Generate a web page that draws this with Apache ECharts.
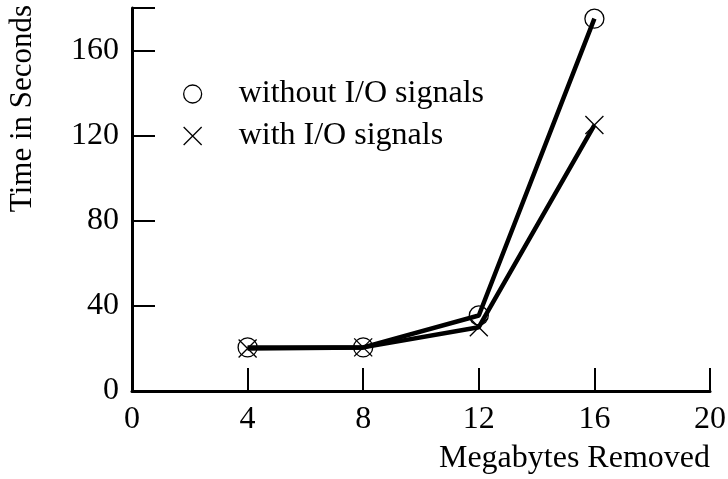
<!DOCTYPE html>
<html>
<head>
<meta charset="utf-8">
<script src="https://cdn.jsdelivr.net/npm/echarts@6/dist/echarts.min.js"></script>
<style>
  html, body { margin: 0; padding: 0; background: #fff; }
  #chart { width: 728px; height: 479px; }
</style>
</head>
<body>
<div id="chart"></div>
<script>
// Megabytes removed (x) against elapsed time in seconds (y)
const megabytes = [4, 8, 12, 16];
const withoutSignals = [20.5, 20.5, 35.5, 175];
const withSignals = [20, 20.5, 30, 125];
const xTicks = [0, 4, 8, 12, 16, 20];
const yTicks = [0, 40, 80, 120, 160];

const seriesNames = ['without I/O signals', 'with I/O signals'];
const crossPath = 'path://M0,0L10,10M10,0L0,10';
const serif = '"Liberation Serif", "Times New Roman", serif';

const toPairs = (xs, ys) => xs.map((x, i) => [x, ys[i]]);

const chart = echarts.init(document.getElementById('chart'), null, { renderer: 'canvas' });

const axisCommon = {
  axisLine: { show: true, onZero: false, lineStyle: { color: '#000', width: 3 } },
  axisTick: { show: true, inside: true, length: 23, lineStyle: { color: '#000', width: 2 } },
  splitLine: { show: false },
  axisLabel: { color: '#000', fontFamily: serif, fontSize: 32, margin: 13 },
  nameTextStyle: { color: '#000', fontFamily: serif, fontSize: 32 }
};

chart.setOption({
  animation: false,
  backgroundColor: '#fff',
  grid: { left: 132, right: 18, top: 8, bottom: 88, containLabel: false, outerBoundsMode: 'none' },
  xAxis: Object.assign({}, axisCommon, {
    type: 'value',
    min: xTicks[0],
    max: xTicks[xTicks.length - 1],
    interval: xTicks[1] - xTicks[0],
    name: 'Megabytes Removed',
    nameLocation: 'end',
    nameGap: 0,
    nameTextStyle: Object.assign({}, axisCommon.nameTextStyle, {
      align: 'right', verticalAlign: 'top', padding: [52, 0, 0, 0]
    })
  }),
  yAxis: Object.assign({}, axisCommon, {
    type: 'value',
    min: yTicks[0],
    max: 180,
    interval: yTicks[1] - yTicks[0],
    axisLabel: Object.assign({}, axisCommon.axisLabel, {
      formatter: v => (yTicks.indexOf(v) >= 0 ? String(v) : '')
    }),
    name: 'Time in Seconds',
    nameLocation: 'middle',
    nameRotate: 90,
    nameGap: 94,
    nameTextStyle: Object.assign({}, axisCommon.nameTextStyle, { fontSize: 31, padding: [0, 0, 0, 182] })
  }),
  legend: {
    left: 178,
    top: 73,
    orient: 'vertical',
    itemWidth: 82,
    itemHeight: 18,
    itemGap: 10,
    selectedMode: false,
    textStyle: { color: '#000', fontFamily: serif, fontSize: 32 },
    data: [
      { name: seriesNames[0], icon: 'circle',
        itemStyle: { color: 'rgba(0,0,0,0)', borderColor: '#000', borderWidth: 1.3 } },
      { name: seriesNames[1], icon: crossPath,
        itemStyle: { color: 'rgba(0,0,0,0)', borderColor: '#000', borderWidth: 1.3 } }
    ]
  },
  series: [
    {
      name: seriesNames[0],
      type: 'line',
      data: toPairs(megabytes, withoutSignals),
      symbol: 'circle',
      symbolSize: 19,
      showAllSymbol: true,
      lineStyle: { color: '#000', width: 4.5 },
      itemStyle: { color: 'rgba(0,0,0,0)', borderColor: '#000', borderWidth: 1.3 },
      z: 3
    },
    {
      name: seriesNames[1],
      type: 'line',
      data: toPairs(megabytes, withSignals),
      symbol: crossPath,
      symbolSize: 18,
      showAllSymbol: true,
      lineStyle: { color: '#000', width: 4.5 },
      itemStyle: { color: 'rgba(0,0,0,0)', borderColor: '#000', borderWidth: 1.3 },
      z: 3
    }
  ]
});
</script>
</body>
</html>
